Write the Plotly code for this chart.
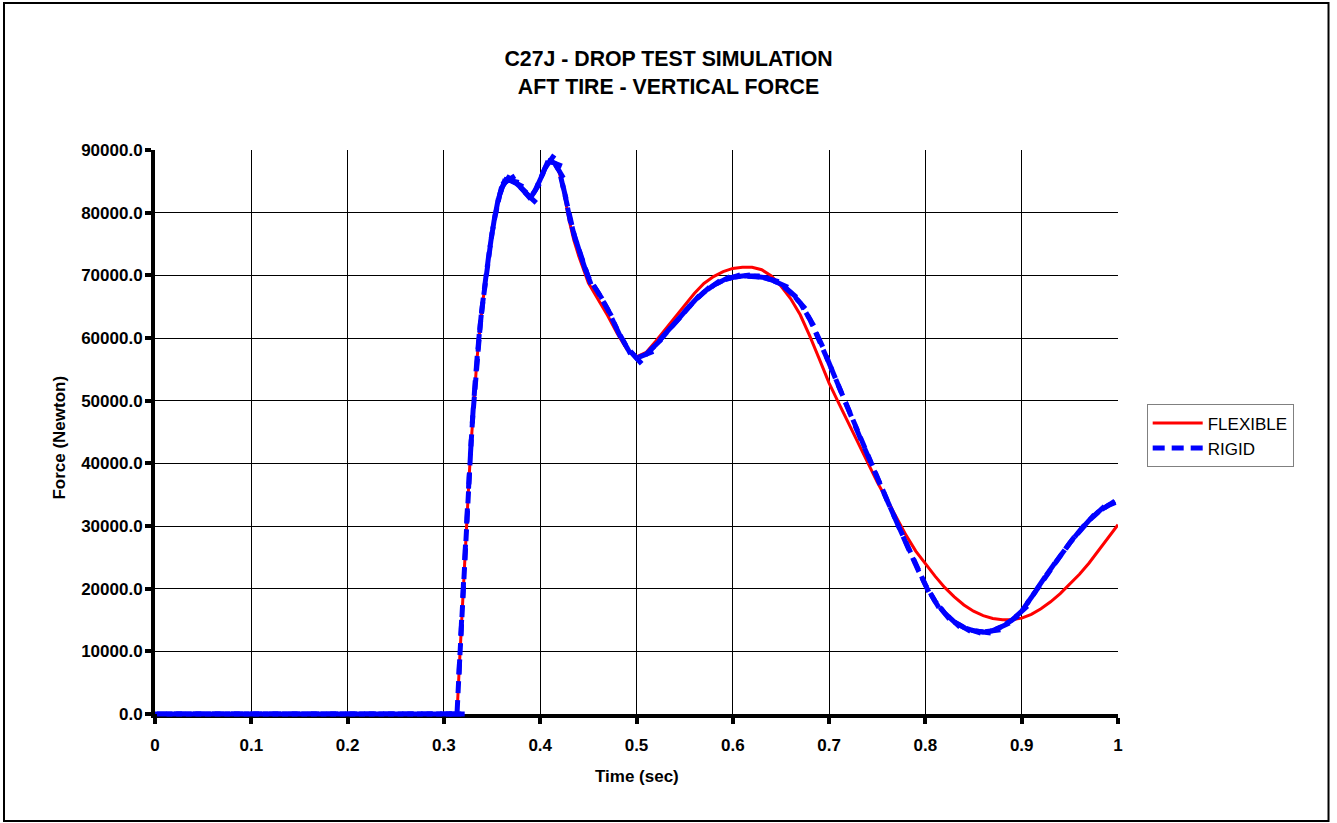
import plotly.graph_objects as go

# ---- data ----
time_s = [
    0.00, 0.01, 0.02, 0.03, 0.04, 0.05, 0.06, 0.07, 0.08, 0.09,
    0.10, 0.11, 0.12, 0.13, 0.14, 0.15, 0.16, 0.17, 0.18, 0.19,
    0.20, 0.21, 0.22, 0.23, 0.24, 0.25, 0.26, 0.27, 0.28, 0.29,
    0.30, 0.31, 0.3136,
    0.316, 0.318, 0.320, 0.322, 0.324, 0.326, 0.328, 0.330, 0.332, 0.334,
    0.336, 0.338, 0.340, 0.343, 0.346, 0.349, 0.352, 0.355, 0.358, 0.361,
    0.364, 0.367, 0.370, 0.375, 0.380, 0.385, 0.390, 0.395, 0.400, 0.405,
    0.410, 0.415, 0.420, 0.425, 0.430, 0.435, 0.440, 0.445, 0.450,
    0.46, 0.47, 0.48, 0.49, 0.50, 0.51, 0.52, 0.53, 0.54, 0.55,
    0.56, 0.57, 0.58, 0.59, 0.60, 0.61, 0.62, 0.63, 0.64, 0.65,
    0.66, 0.67, 0.68, 0.69, 0.70, 0.71, 0.72, 0.73, 0.74, 0.75,
    0.76, 0.77, 0.78, 0.79, 0.80, 0.81, 0.82, 0.83, 0.84, 0.85,
    0.86, 0.87, 0.88, 0.89, 0.90, 0.91, 0.92, 0.93, 0.94, 0.95,
    0.96, 0.97, 0.98, 0.99, 1.00,
]

flexible_N = [
    0, 0, 0, 0, 0, 0, 0, 0, 0, 0,
    0, 0, 0, 0, 0, 0, 0, 0, 0, 0,
    0, 0, 0, 0, 0, 0, 0, 0, 0, 0,
    0, 0, 0,
    7500, 13800, 19800, 25800, 31600, 37200, 42600, 47600, 52000, 55900,
    59400, 62500, 65200, 69000, 72500, 75700, 78600, 81000, 82900, 84200,
    84900, 85200, 85100, 84700, 84000, 83100, 82400, 83600, 85300, 87100,
    88200, 87800, 86300, 82900, 78800, 75600, 73100, 70800, 68800,
    66200, 63600, 60700, 58200, 57000, 57700, 59500, 61400, 63300, 65200,
    67100, 68700, 69800, 70600, 71100, 71300, 71300, 70900, 69900, 68300,
    66300, 63700, 60300, 56600, 52800, 49600, 46400, 43200, 40000, 37000,
    34200, 31300, 28500, 26000, 24000, 22000, 20200, 18700, 17400, 16400,
    15700, 15250, 15050, 15050, 15300, 15900, 16800, 17900, 19200, 20700,
    22300, 24100, 26100, 28100, 30200,
]

rigid_N = [
    0, 0, 0, 0, 0, 0, 0, 0, 0, 0,
    0, 0, 0, 0, 0, 0, 0, 0, 0, 0,
    0, 0, 0, 0, 0, 0, 0, 0, 0, 0,
    0, 0, 0,
    7500, 13800, 19800, 25800, 31600, 37200, 42600, 47600, 52000, 55900,
    59400, 62500, 65200, 69000, 72500, 75700, 78600, 81000, 82900, 84200,
    84900, 85200, 85100, 84700, 84000, 83100, 82400, 83600, 85300, 87100,
    88200, 87900, 86600, 83400, 79600, 76600, 74200, 71800, 69700,
    67300, 64600, 61300, 58500, 56800, 57400, 58900, 60700, 62400, 64200,
    65900, 67300, 68400, 69200, 69700, 69900, 69900, 69700, 69300, 68600,
    67300, 65600, 63000, 59700, 56000, 52300, 48600, 44900, 41300, 37700,
    34200, 30700, 27200, 23800, 20600, 18000, 16100, 14700, 13800, 13300,
    13100, 13300, 14000, 15000, 16400, 18600, 20900, 23100, 25200, 27300,
    29200, 30900, 32300, 33300, 33900,
]

x_ticks = [0, 0.1, 0.2, 0.3, 0.4, 0.5, 0.6, 0.7, 0.8, 0.9, 1.0]
x_tick_labels = ["0", "0.1", "0.2", "0.3", "0.4", "0.5", "0.6", "0.7", "0.8", "0.9", "1"]
y_ticks = [0, 10000, 20000, 30000, 40000, 50000, 60000, 70000, 80000, 90000]

FONT = "Liberation Sans, Arial, sans-serif"
RED = "#FF0000"
BLUE = "#0000FF"

fig = go.Figure()

fig.add_trace(go.Scatter(
    x=time_s, y=flexible_N, name="FLEXIBLE", mode="lines",
    line=dict(color=RED, width=3), cliponaxis=False,
))
fig.add_trace(go.Scatter(
    x=time_s, y=rigid_N, name="RIGID", mode="lines",
    line=dict(color=BLUE, width=5, dash="12px,7px"), cliponaxis=False,
))
# short dash at each data point (Excel restarts the dash at every segment)
fig.add_trace(go.Scatter(
    x=time_s[:-1], y=rigid_N[:-1], name="RIGID", mode="markers", showlegend=False,
    marker=dict(symbol="line-ns", size=11, angleref="previous",
                color=BLUE, line=dict(color=BLUE, width=5)),
    cliponaxis=False, hoverinfo="skip",
))

axis_common = dict(
    showline=True, linecolor="black", linewidth=4,
    ticks="outside", ticklen=6, tickwidth=4, tickcolor="black",
    showgrid=True, gridcolor="black", gridwidth=1,
    zeroline=False, layer="below traces",
    tickfont=dict(family=FONT, size=17, color="black", weight="bold"),
)

fig.update_xaxes(range=[0, 1], tickvals=x_ticks, ticktext=x_tick_labels,
                 ticklabelstandoff=7, **axis_common)
fig.update_yaxes(range=[0, 90000], tickvals=y_ticks, tickformat=".1f",
                 ticklabelstandoff=-1, **axis_common)

fig.update_layout(
    width=1337, height=823,
    margin=dict(l=155, r=219, t=150, b=109),
    paper_bgcolor="white", plot_bgcolor="white",
    title=dict(
        text="C27J - DROP TEST SIMULATION<br>AFT TIRE - VERTICAL FORCE",
        x=0.5, xref="container", xanchor="center",
        y=1 - 66 / 823, yref="container", yanchor="middle",
        font=dict(family=FONT, size=21.3, color="black", weight="bold"),
    ),
    legend=dict(
        x=1.0298, y=0.549, xanchor="left", yanchor="top",
        bordercolor="#808080", borderwidth=1, bgcolor="white",
        font=dict(family=FONT, size=17, color="black"),
        itemwidth=50, tracegroupgap=0,
    ),
    showlegend=True,
    annotations=[
        dict(text="Time (sec)", x=0.5, y=-0.1117, xref="paper", yref="paper",
             xanchor="center", yanchor="middle", showarrow=False,
             font=dict(family=FONT, size=17, color="black", weight="bold")),
        dict(text="Force (Newton)", x=-0.0987, y=0.49, xref="paper", yref="paper",
             xanchor="center", yanchor="middle", showarrow=False, textangle=-90,
             font=dict(family=FONT, size=17, color="black", weight="bold")),
    ],
    shapes=[
        dict(type="rect", xref="paper", yref="paper",
             x0=-0.1568, x1=1.2186, y0=-0.1897, y1=1.2606,
             line=dict(color="black", width=2), layer="below"),
    ],
)

fig.write_html("out.html")
